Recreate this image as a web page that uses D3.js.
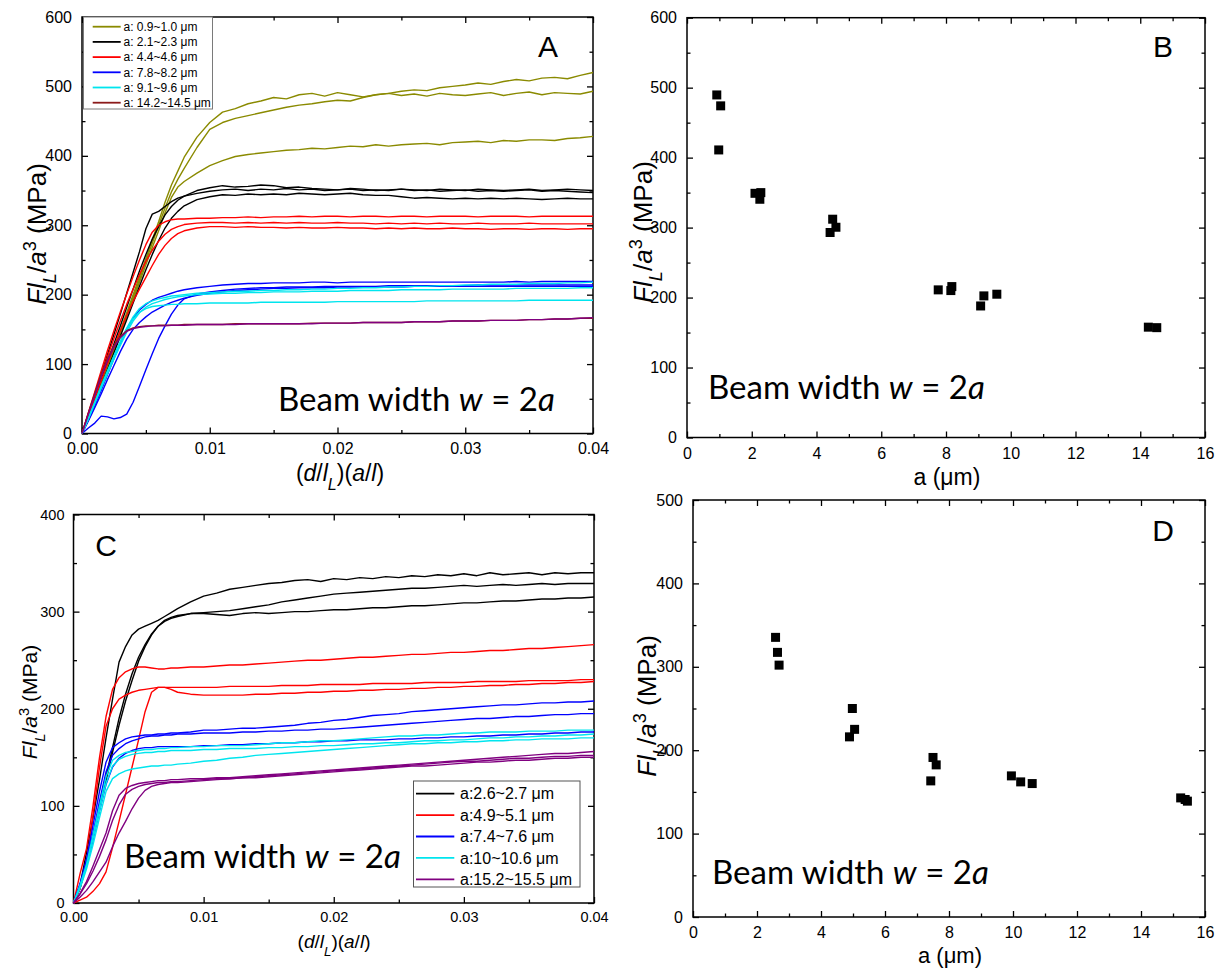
<!DOCTYPE html>
<html><head><meta charset="utf-8">
<script src="https://cdn.jsdelivr.net/npm/d3@7"></script>
<style>
body{margin:0;background:#fff}
svg{display:block}
text{font-family:"Liberation Sans",Arial,sans-serif;fill:#000}
.beam{font-family:Lato,"Open Sans",sans-serif}
</style>
</head><body>
<svg id="chart" width="1218" height="969"></svg>
<script>
// ---------- DATA ----------
// shared x grid for curve panels, in units of 1e-3 of (d/lL)(a/l)
const GRID = [0,0.5,1,1.5,2,2.5,3,3.5,4,4.5,5,5.5,6,6.5,7,7.5,8,9,10,11,12,13,14,15,16,17,18,19,20,21,22,23,24,25,26,27,28,29,30,31,32,33,34,35,36,37,38,39,40];

// Panel A curves (MPa)
const aOlive1 = [0,22,47,72,97,122,148,174,200,226,252,279,305,333,358,378,398,427,448,463,468,475,479,484,482,488,490,486,491,488,485,488,490,487,489,486,490,488,487,489,491,487,490,492,488,491,490,489,493];
const aOlive2 = [0,21,45,70,95,120,145,171,196,222,248,274,300,325,348,366,382,412,438,448,454,458,462,466,470,473,475,478,480,479,484,488,490,493,495,494,498,500,502,505,503,507,510,508,512,513,511,516,520];
const aOlive3 = [0,20,44,68,93,118,143,168,193,218,243,268,292,318,340,355,363,375,386,393,399,402,404,406,408,409,411,410,412,414,413,416,414,416,417,418,416,419,420,421,419,422,421,423,423,422,425,426,428];
const aBlack1 = [0,28,56,85,114,143,172,202,232,262,295,316,320,327,334,339,342,346,349,351,352,350,352,351,353,351,352,350,351,352,350,351,350,352,351,350,352,351,350,352,351,350,351,352,350,351,352,351,350];
const aBlack2 = [0,25,51,77,103,129,155,182,208,234,258,280,298,315,327,336,342,350,354,357,355,356,358,357,354,355,353,352,351,353,352,350,351,352,350,351,349,350,351,349,350,349,350,351,349,350,349,348,347];
const aBlack3 = [0,22,45,68,92,116,140,164,188,212,236,258,278,296,310,320,328,337,341,344,343,345,344,345,344,346,345,344,345,346,344,343,343,341,339,340,339,338,339,338,339,338,339,338,337,338,339,338,338];
const aRed1 = [0,30,60,90,120,148,175,201,226,250,272,290,300,305,308,309,309,310,310,311,311,312,311,312,312,313,312,313,313,312,313,313,312,313,313,312,313,313,313,312,313,313,313,312,313,313,313,313,313];
const aRed2 = [0,28,56,84,111,137,162,186,208,229,248,264,277,287,294,298,301,303,304,304,303,304,303,304,303,304,303,303,304,303,303,302,303,302,303,302,303,302,302,303,302,302,302,303,302,302,302,302,302];
const aRed3 = [0,25,51,76,101,125,148,170,190,208,225,242,258,271,281,288,292,296,298,298,297,298,297,297,296,297,296,296,297,296,296,295,296,295,296,295,295,296,295,295,294,295,295,294,295,295,294,295,295];
const aBlue1 = [0,20,40,62,85,108,130,150,166,178,186,192,196,199,202,205,207,210,212,214,215,216,216,217,217,217,218,218,217,218,218,218,218,218,218,218,218,218,218,218,218,218,219,218,219,219,219,219,219];
const aBlue2 = [0,18,37,57,78,98,118,136,150,160,168,175,180,185,189,192,195,199,202,204,206,207,208,209,209,210,210,210,211,211,211,211,211,211,212,212,212,212,212,212,212,212,212,212,212,212,212,212,212];
const aBlue3 = [0,8,15,25,24,21,23,28,45,68,92,115,137,155,172,185,194,201,204,206,208,209,210,210,211,211,211,212,212,212,212,212,213,213,213,213,213,213,213,214,214,214,214,214,214,214,214,214,214];
const aCyan1 = [0,22,45,68,90,112,133,152,168,180,187,191,194,196,198,199,200,202,203,204,205,205,206,206,207,207,208,208,209,209,210,210,211,211,212,212,213,213,214,214,215,215,215,216,216,216,217,217,218];
const aCyan2 = [0,21,43,65,86,107,127,146,162,174,182,187,190,193,195,197,198,200,201,202,202,203,203,204,204,204,205,205,205,206,206,206,206,207,207,207,207,208,208,208,208,208,209,209,209,209,209,210,210];
const aCyan3 = [0,22,45,68,90,111,131,150,165,175,180,183,184,185,186,186,187,187,188,188,188,188,189,189,189,189,189,189,190,190,190,190,190,190,190,191,191,191,191,191,191,191,191,192,192,192,192,192,192];
const aDark1 = [0,30,58,85,108,127,140,148,152,154,155,155,156,156,156,156,157,157,157,157,158,158,158,158,158,158,159,159,159,159,160,160,160,160,161,161,161,162,162,162,163,163,163,164,164,165,165,166,166];
const aPurp1 = [0,28,55,82,105,124,138,147,151,153,154,155,155,155,156,156,156,157,157,157,157,158,158,158,158,158,158,159,159,159,160,160,160,160,161,161,161,162,162,162,163,163,163,164,164,165,165,166,167];

// Panel C curves (MPa)
const cBlack1 = [0,18,52,88,127,170,210,248,264,276,282,285,288,291,295,299,303,310,316,319,323,325,327,329,330,332,333,331,334,333,335,334,336,335,337,336,338,337,339,337,340,338,339,340,338,340,339,340,340];
const cBlack2 = [0,15,40,70,100,130,160,190,215,236,253,266,277,285,290,293,295,298,299,300,301,303,305,307,310,312,314,316,318,319,320,321,322,323,324,324,325,326,327,326,327,328,327,328,329,328,329,329,329];
const cBlack3 = [0,15,40,68,97,126,155,183,208,229,249,264,276,285,291,294,296,298,298,297,296,298,299,298,299,300,300,301,302,302,303,304,304,305,306,306,307,308,309,309,310,311,311,312,313,313,314,314,315];
const cRed1 = [0,30,56,100,150,192,220,232,238,241,243,243,242,241,241,242,242,243,243,244,245,245,246,247,248,249,250,250,251,252,253,253,254,255,256,256,257,258,258,259,260,260,261,262,262,263,264,265,266];
const cRed2 = [0,15,40,90,140,182,200,210,214,217,219,220,221,222,222,222,222,222,222,222,223,223,223,223,224,224,224,225,225,225,225,226,226,226,226,227,227,227,227,228,228,228,228,229,229,229,229,230,230];
const cRed3 = [0,3,6,12,20,32,57,84,112,140,168,197,217,222,222,220,217,215,214,214,214,214,215,215,216,216,217,217,218,218,219,219,220,220,221,221,222,222,223,223,224,224,225,225,226,226,227,227,228];
const cBlue1 = [0,20,45,80,115,145,160,165,169,171,172,173,173,174,174,175,175,176,178,178,179,180,180,181,182,183,185,186,188,189,191,193,194,195,197,198,199,200,201,202,203,204,204,205,206,206,207,207,208];
const cBlue2 = [0,18,40,72,105,135,152,159,164,167,169,171,172,172,173,173,174,174,175,175,175,176,176,177,177,178,178,179,179,180,181,182,183,184,185,186,187,188,189,190,190,191,192,192,193,194,194,195,195];
const cBlue3 = [0,17,38,65,95,122,140,149,154,157,159,160,160,161,161,161,161,161,162,162,163,163,164,164,165,165,166,166,167,167,168,168,168,169,169,170,170,171,171,172,172,173,173,174,174,175,175,176,176];
const cCyan1 = [0,18,40,70,100,130,147,152,155,156,157,158,158,159,159,160,160,161,161,162,162,162,163,164,165,165,166,167,167,168,169,170,171,172,172,173,173,174,175,175,176,176,176,177,177,177,178,178,178];
const cCyan2 = [0,17,38,66,95,123,141,148,151,153,154,155,155,156,156,157,157,157,158,158,159,159,159,160,160,161,161,162,162,163,164,164,165,165,166,167,167,168,168,169,170,170,171,171,172,172,173,173,174];
const cCyan3 = [0,15,35,60,88,115,128,133,136,138,139,140,141,141,142,142,143,144,146,147,149,150,152,153,154,155,156,157,158,159,160,161,162,163,164,164,165,165,166,166,167,167,168,168,169,169,169,170,170];
const cPurp1 = [0,10,22,38,55,72,95,111,118,121,123,124,125,126,126,127,127,128,128,129,129,130,131,132,133,134,135,136,137,138,139,140,141,142,143,144,145,146,147,148,149,150,151,152,153,154,154,155,156];
const cPurp2 = [0,9,20,33,48,65,85,101,112,117,120,122,123,124,124,125,125,126,127,128,128,129,130,131,132,133,134,135,136,137,138,139,140,141,142,143,144,145,146,146,147,148,149,149,150,151,151,152,152];
const cPurp3 = [0,6,13,22,32,42,58,72,84,97,108,116,120,122,123,124,124,125,126,127,128,129,129,130,131,132,133,134,135,136,137,138,139,140,141,141,142,143,144,145,145,146,147,147,148,149,149,150,150];

// Panel B scatter
const bA = [0.92,1.04,0.98,2.10,2.28,2.25,4.50,4.60,4.42,7.76,8.18,8.15,9.07,9.17,9.57,14.25,14.51];
const bV = [489.6,474,411,349,350,340.5,312,300.5,293,211,215.7,210,188,202.4,204.8,157.7,157];
// Panel D scatter
const dA = [2.58,2.64,2.69,4.98,5.05,4.89,7.50,7.60,7.43,9.95,10.24,10.60,15.24,15.38,15.45];
const dV = [335.3,317.3,302,250,225,216,191.3,182.4,163.2,169.2,162,160,142.8,140.9,138.9];

// Legends
const legendA = ["a: 0.9~1.0 μm","a: 2.1~2.3 μm","a: 4.4~4.6 μm","a: 7.8~8.2 μm","a: 9.1~9.6 μm","a: 14.2~14.5 μm"];
const legendC = ["a:2.6~2.7 μm","a:4.9~5.1 μm","a:7.4~7.6 μm","a:10~10.6 μm","a:15.2~15.5 μm"];

// ---------- STYLE ----------
const OLIVE="#8a8a00", BLACK="#000000", RED="#ff0000", BLUE="#0000ff", CYAN="#00e5ee", DARKRED="#8b1a1a", PURPLE="#800080";
const colorsA=[OLIVE,BLACK,RED,BLUE,CYAN,DARKRED];
const colorsC=[BLACK,RED,BLUE,CYAN,PURPLE];

const seriesA=[
  [aOlive1,OLIVE],[aOlive2,OLIVE],[aOlive3,OLIVE],
  [aBlack1,BLACK],[aBlack2,BLACK],[aBlack3,BLACK],
  [aRed1,RED],[aRed2,RED],[aRed3,RED],
  [aBlue1,BLUE],[aBlue2,BLUE],[aBlue3,BLUE],
  [aCyan1,CYAN],[aCyan2,CYAN],[aCyan3,CYAN],
  [aDark1,DARKRED],[aPurp1,PURPLE]
];
const seriesC=[
  [cBlack1,BLACK],[cBlack2,BLACK],[cBlack3,BLACK],
  [cRed1,RED],[cRed2,RED],[cRed3,RED],
  [cBlue1,BLUE],[cBlue2,BLUE],[cBlue3,BLUE],
  [cCyan1,CYAN],[cCyan2,CYAN],[cCyan3,CYAN],
  [cPurp1,PURPLE],[cPurp2,PURPLE],[cPurp3,PURPLE]
];

const svg=d3.select("#chart");

function richText(sel, segs){
  segs.forEach(s=>{
    const t=sel.append("tspan").text(s.t);
    if(s.i) t.attr("font-style","italic");
    if(s.s==="sub") t.attr("baseline-shift","sub").attr("font-size","70%");
    if(s.s==="sup") t.attr("baseline-shift","super").attr("font-size","70%");
  });
  return sel;
}
const yTitleSegs=[{t:"Fl",i:1},{t:"L",i:1,s:"sub"},{t:"/"},{t:"a",i:1},{t:"3",s:"sup"},{t:" (MPa)"}];
const xTitleSegs=[{t:"("},{t:"d",i:1},{t:"/"},{t:"l",i:1},{t:"L",i:1,s:"sub"},{t:")("},{t:"a",i:1},{t:"/"},{t:"l",i:1},{t:")"}];
const xTitleSegsB=[{t:"a (μm)"}];

function panel(p){
  const g=svg.append("g");
  const x=d3.scaleLinear().domain(p.xd).range([p.L,p.R]);
  const y=d3.scaleLinear().domain(p.yd).range([p.B,p.T]);
  const xMaj=d3.range(p.xd[0],p.xd[1]+p.xStep/2,p.xStep);
  const xMin=d3.range(p.xd[0]+p.xStep/2,p.xd[1],p.xStep);
  const yMaj=d3.range(p.yd[0],p.yd[1]+1,p.yStep);
  const yMin=d3.range(p.yd[0]+p.yStep/2,p.yd[1],p.yStep);
  const M=6, m=3.5;
  const add=(axis,tr)=>{const a=g.append("g").attr("transform",tr).call(axis);a.select(".domain").remove();
    a.selectAll("line").attr("stroke","#000").attr("stroke-width",1.3);
    a.selectAll("text").attr("font-size",p.fs).attr("font-family","Liberation Sans, Arial, sans-serif").attr("fill","#000");return a;};
  add(d3.axisBottom(x).tickValues(xMaj).tickSize(-M).tickPadding(p.xPad).tickFormat(p.xFmt),`translate(0,${p.B})`);
  add(d3.axisBottom(x).tickValues(xMin).tickSize(-m).tickFormat(""),`translate(0,${p.B})`);
  add(d3.axisTop(x).tickValues(xMaj).tickSize(-M).tickFormat(""),`translate(0,${p.T})`);
  add(d3.axisTop(x).tickValues(xMin).tickSize(-m).tickFormat(""),`translate(0,${p.T})`);
  add(d3.axisLeft(y).tickValues(yMaj).tickSize(-M).tickPadding(p.yPad).tickFormat(d3.format("d")),`translate(${p.L},0)`);
  add(d3.axisLeft(y).tickValues(yMin).tickSize(-m).tickFormat(""),`translate(${p.L},0)`);
  add(d3.axisRight(y).tickValues(yMaj).tickSize(-M).tickFormat(""),`translate(${p.R},0)`);
  add(d3.axisRight(y).tickValues(yMin).tickSize(-m).tickFormat(""),`translate(${p.R},0)`);
  g.append("rect").attr("x",p.L).attr("y",p.T).attr("width",p.R-p.L).attr("height",p.B-p.T)
    .attr("fill","none").attr("stroke","#000").attr("stroke-width",1.5);
  // titles
  richText(g.append("text").attr("x",p.xtX).attr("y",p.xtY).attr("text-anchor","middle").attr("font-size",p.xtFs),p.xSegs);
  richText(g.append("text").attr("transform",`translate(${p.ytX},${p.ytY}) rotate(-90)`).attr("text-anchor","middle").attr("font-size",p.ytFs),yTitleSegs);
  // letter
  g.append("text").attr("x",p.letX).attr("y",p.letY).attr("text-anchor","middle").attr("font-size",30).text(p.letter);
  // beam text
  const bt=g.append("text").attr("class","beam").attr("x",p.bX).attr("y",p.bY).attr("font-size",p.bFs);
  bt.append("tspan").text("Beam width ");
  bt.append("tspan").attr("font-style","italic").text("w");
  bt.append("tspan").text(" = 2");
  bt.append("tspan").attr("font-style","italic").text("a");
  return {g,x,y};
}

// ---------- PANEL A ----------
const A=panel({L:82,R:593,T:17,B:433.5,xd:[0,0.04],yd:[0,600],xStep:0.01,yStep:100,fs:16,xPad:9,yPad:10,
  xFmt:d3.format(".2f"),xtX:340,xtY:481,xtFs:23,xSegs:xTitleSegs,ytX:46,ytY:234,ytFs:26,
  letter:"A",letX:548,letY:57,bX:278,bY:411,bFs:33});
const lineA=d3.line().x((d,i)=>A.x(GRID[i]/1000)).y(d=>A.y(d));
seriesA.forEach(([v,c])=>A.g.append("path").attr("d",lineA(v)).attr("fill","none").attr("stroke",c).attr("stroke-width",1.4).attr("stroke-linejoin","round"));
// legend A
{
  const lg=A.g.append("g");
  lg.append("rect").attr("x",83.5).attr("y",17).attr("width",129).attr("height",92).attr("fill","#fff").attr("stroke","#7a7a7a").attr("stroke-width",1);
  legendA.forEach((t,i)=>{
    const yy=26.7+i*15.2;
    lg.append("line").attr("x1",92.7).attr("x2",120.7).attr("y1",yy).attr("y2",yy).attr("stroke",colorsA[i]).attr("stroke-width",1.8);
    lg.append("text").attr("x",123.5).attr("y",yy+4.3).attr("font-size",12).text(t);
  });
}

// ---------- PANEL B ----------
const B=panel({L:687,R:1205,T:17.7,B:437.5,xd:[0,16],yd:[0,600],xStep:2,yStep:100,fs:16,xPad:10,yPad:10,
  xFmt:d3.format("d"),xtX:947,xtY:485,xtFs:23,xSegs:xTitleSegsB,ytX:652,ytY:232,ytFs:26,
  letter:"B",letX:1163,letY:57,bX:708,bY:399,bFs:33});
B.g.selectAll("rect.pt").data(bA).enter().append("rect").attr("class","pt")
  .attr("x",(d)=>B.x(d)-4.5).attr("y",(d,i)=>B.y(bV[i])-4.5).attr("width",9).attr("height",9).attr("fill","#000");

// ---------- PANEL C ----------
const C=panel({L:73.5,R:594,T:514.5,B:903,xd:[0,0.04],yd:[0,400],xStep:0.01,yStep:100,fs:14.5,xPad:9,yPad:9,
  xFmt:d3.format(".2f"),xtX:334,xtY:948,xtFs:19,xSegs:xTitleSegs,ytX:37,ytY:702,ytFs:21,
  letter:"C",letX:106,letY:556,bX:124,bY:868,bFs:33});
const lineC=d3.line().x((d,i)=>C.x(GRID[i]/1000)).y(d=>C.y(d));
seriesC.forEach(([v,c])=>C.g.append("path").attr("d",lineC(v)).attr("fill","none").attr("stroke",c).attr("stroke-width",1.4).attr("stroke-linejoin","round"));
{
  const lg=C.g.append("g");
  lg.append("rect").attr("x",413.5).attr("y",781).attr("width",166.5).attr("height",106).attr("fill","#fff").attr("stroke","#555").attr("stroke-width",1);
  legendC.forEach((t,i)=>{
    const yy=793.7+i*21.4;
    lg.append("line").attr("x1",416).attr("x2",454.3).attr("y1",yy).attr("y2",yy).attr("stroke",colorsC[i]).attr("stroke-width",1.8);
    lg.append("text").attr("x",460).attr("y",yy+5.6).attr("font-size",16).text(t);
  });
}

// ---------- PANEL D ----------
const D=panel({L:693,R:1205,T:500,B:917,xd:[0,16],yd:[0,500],xStep:2,yStep:100,fs:16,xPad:10,yPad:10,
  xFmt:d3.format("d"),xtX:950,xtY:963,xtFs:22,xSegs:xTitleSegsB,ytX:656,ytY:706,ytFs:26,
  letter:"D",letX:1163,letY:541,bX:712,bY:884,bFs:33});
D.g.selectAll("rect.pt").data(dA).enter().append("rect").attr("class","pt")
  .attr("x",(d)=>D.x(d)-4.5).attr("y",(d,i)=>D.y(dV[i])-4.5).attr("width",9).attr("height",9).attr("fill","#000");
</script>
</body></html>
